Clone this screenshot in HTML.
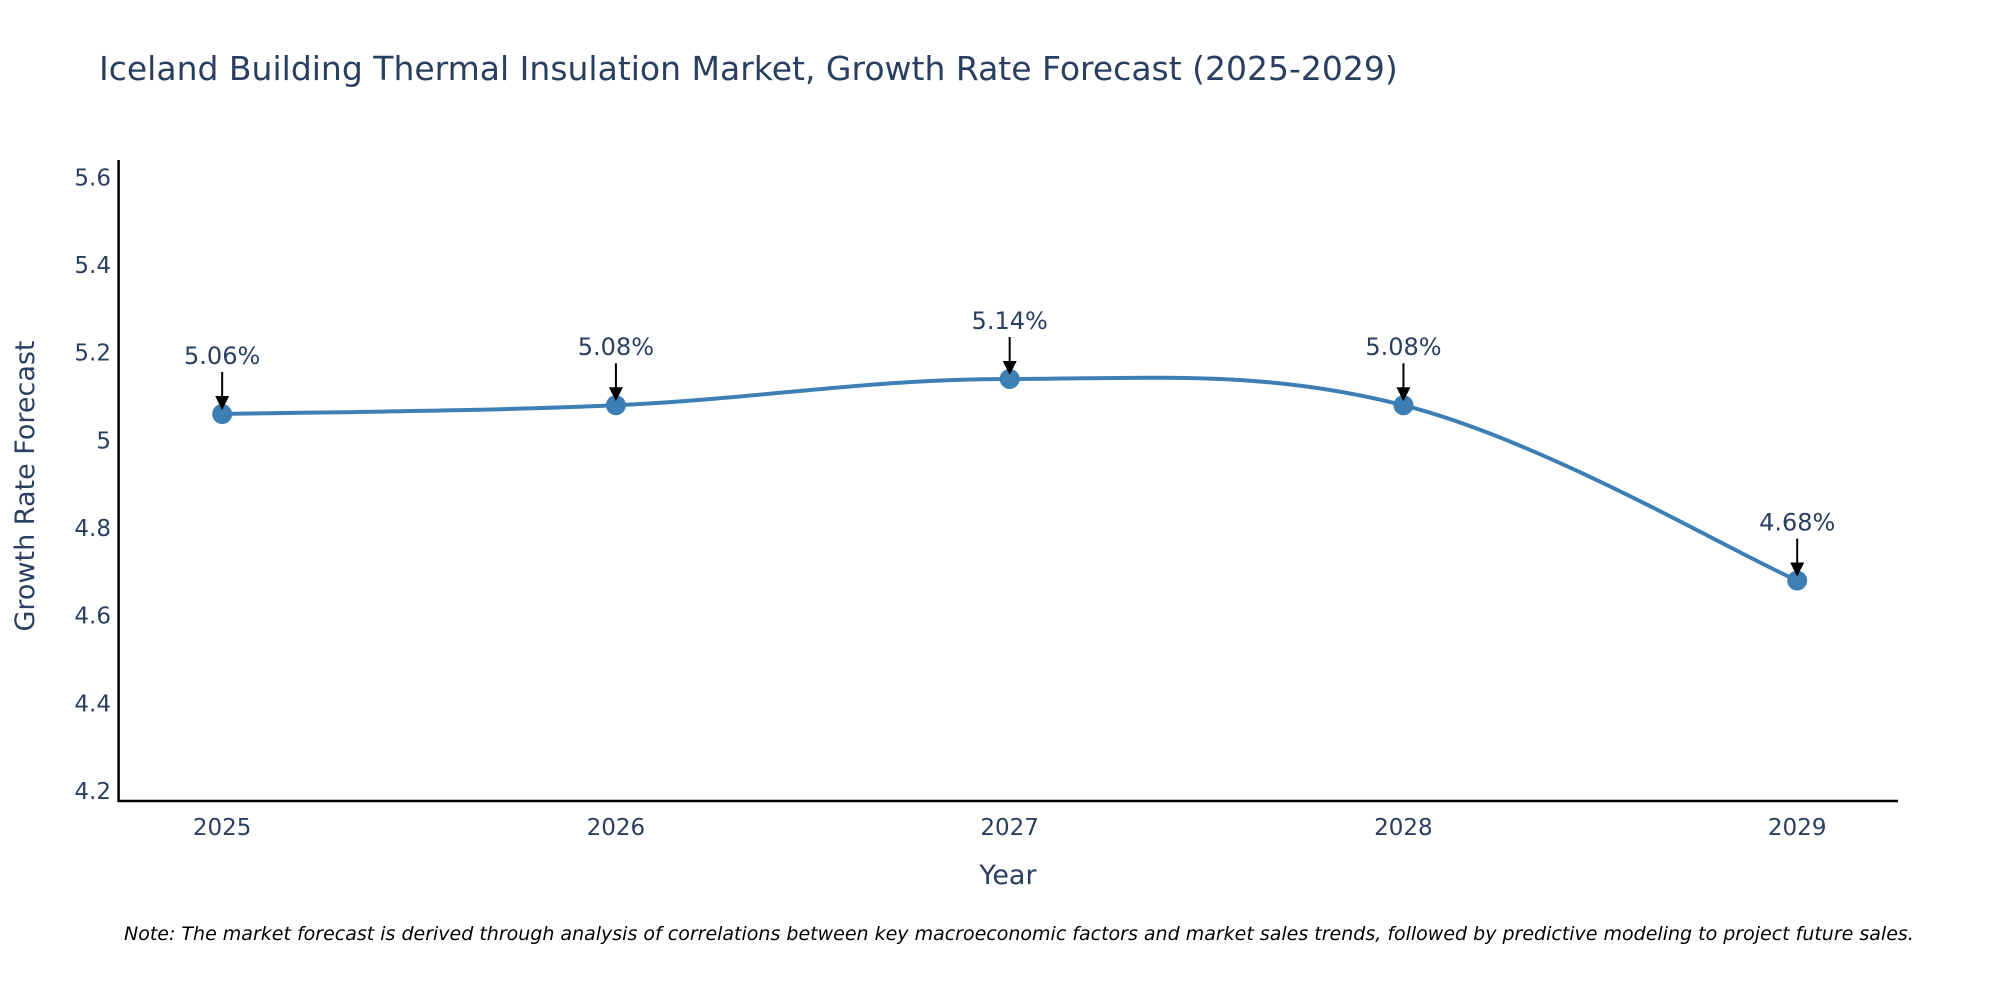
<!DOCTYPE html>
<html><head><meta charset="utf-8">
<style>
html,body{margin:0;padding:0;background:#fff;}
svg text{font-family:"DejaVu Sans","Liberation Sans",sans-serif;}
</style></head>
<body>
<svg id="chart" width="2000" height="1000" viewBox="0 0 2000 1000" xmlns="http://www.w3.org/2000/svg">
<rect width="2000" height="1000" fill="#fff"/>
<text x="99" y="80" font-size="33" fill="#2a3f5f">Iceland Building Thermal Insulation Market, Growth Rate Forecast (2025-2029)</text>
<g id="yticks"></g>
<g id="xticks"></g>
<line x1="118.6" y1="160" x2="118.6" y2="802" stroke="#000" stroke-width="2.5"/>
<line x1="117.5" y1="801" x2="1898" y2="801" stroke="#000" stroke-width="2.5"/>
<g id="series"></g>
<g id="annots"></g>
<text x="28" y="480" font-size="27" fill="#2a3f5f" text-anchor="middle" transform="rotate(-90 34 480)">Growth Rate Forecast</text>
<text x="1008" y="884" font-size="27" fill="#2a3f5f" text-anchor="middle">Year</text>
<text x="124" y="940" font-size="19" font-style="italic" fill="#000">Note: The market forecast is derived through analysis of correlations between key macroeconomic factors and market sales trends, followed by predictive modeling to project future sales.</text>
</svg>
<script>
const years = [2025, 2026, 2027, 2028, 2029];
const growth = [5.06, 5.08, 5.14, 5.08, 4.68];
const labels = ["5.06%", "5.08%", "5.14%", "5.08%", "4.68%"];
const yTicks = [4.2, 4.4, 4.6, 4.8, 5, 5.2, 5.4, 5.6];
const yTickLabels = ["4.2", "4.4", "4.6", "4.8", "5", "5.2", "5.4", "5.6"];

const NS = "http://www.w3.org/2000/svg";
function xS(v){ return 118.6 + (v - 2024.737) / (2029.256 - 2024.737) * (1898 - 118.6); }
function yS(v){ return 801 - (v - 4.177) / (5.638 - 4.177) * (801 - 160.7); }
function mk(tag, attrs, parent){ const e = document.createElementNS(NS, tag); for (const k in attrs) e.setAttribute(k, attrs[k]); parent.appendChild(e); return e; }

const yg = document.getElementById('yticks');
yTicks.forEach((t, i) => {
  const e = mk('text', {x: 111, y: yS(t) + 8, 'font-size': 23, fill: '#2a3f5f', 'text-anchor': 'end'}, yg);
  
  
  e.textContent = yTickLabels[i];
});
const xg = document.getElementById('xticks');
years.forEach(y => {
  const e = mk('text', {x: xS(y), y: 835, 'font-size': 23, fill: '#2a3f5f', 'text-anchor': 'middle'}, xg);
  
  
  e.textContent = String(y);
});

const pts = years.map((y, i) => [xS(y), yS(growth[i])]);
let d = 'M' + pts[0][0] + ',' + pts[0][1];
const s = 0.18;
for (let i = 0; i < pts.length - 1; i++) {
  const p0 = pts[Math.max(0, i - 1)], p1 = pts[i], p2 = pts[i + 1], p3 = pts[Math.min(pts.length - 1, i + 2)];
  const c1 = [p1[0] + (p2[0] - p0[0]) * s, p1[1] + (p2[1] - p0[1]) * s];
  const c2 = [p2[0] - (p3[0] - p1[0]) * s, p2[1] - (p3[1] - p1[1]) * s];
  d += ' C' + c1[0] + ',' + c1[1] + ' ' + c2[0] + ',' + c2[1] + ' ' + p2[0] + ',' + p2[1];
}
const sg = document.getElementById('series');
const line = mk('path', {d: d, fill: 'none', stroke: '#3d7fb5', 'stroke-width': 4}, sg);


pts.forEach(p => {
  const c = mk('circle', {cx: p[0], cy: p[1], r: 10, fill: '#3d7fb5'}, sg);
  
  
});

const ag = document.getElementById('annots');
pts.forEach((p, i) => {
  const ln = mk('line', {x1: p[0], y1: p[1] - 42, x2: p[0], y2: p[1] - 14, stroke: '#000', 'stroke-width': 2}, ag);
  
  
  const ah = mk('polygon', {points: (p[0]-7)+','+(p[1]-18)+' '+(p[0]+7)+','+(p[1]-18)+' '+p[0]+','+(p[1]-4), fill: '#000'}, ag);
  
  
  const t = mk('text', {x: p[0], y: p[1] - 50, 'font-size': 24, fill: '#2a3f5f', 'text-anchor': 'middle'}, ag);
  
  
  t.textContent = labels[i];
});
</script>
</body></html>
